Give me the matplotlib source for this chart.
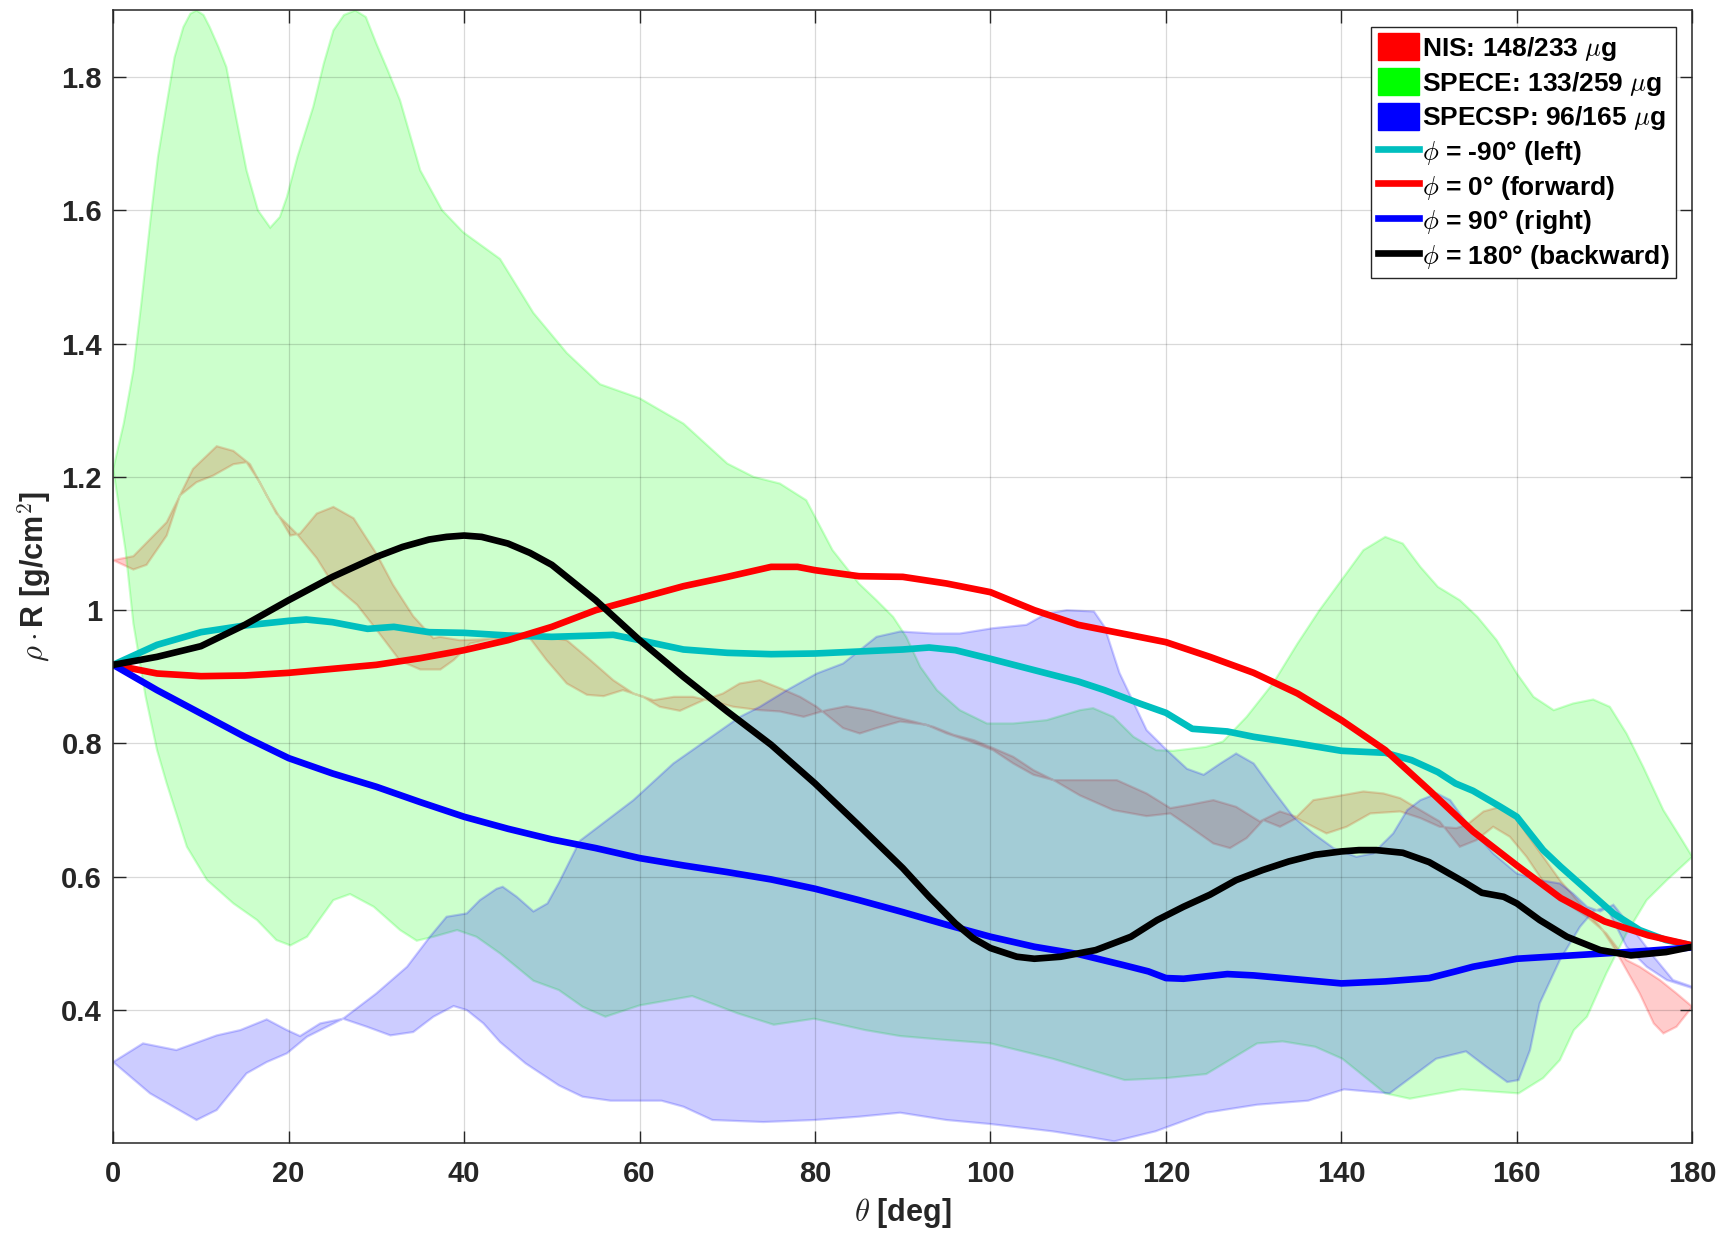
import numpy as np
import matplotlib
matplotlib.use("Agg")
import matplotlib.pyplot as plt
from matplotlib.patches import Patch
from matplotlib.lines import Line2D

plt.rcParams['font.family'] = ['Liberation Sans', 'DejaVu Sans']
plt.rcParams['font.weight'] = 'bold'
plt.rcParams['mathtext.fontset'] = 'cm'

# ---- shaded bands (two edges each) ----
nis_p_theta = [0, 2.3, 3.8, 6.1, 7.6, 9.1, 11.8, 13.7, 15.6, 17.5, 20.2, 21.3, 23.2, 25.1, 27.4, 30, 31.9, 34.2,
               36.5, 37.25, 39.5, 41.8, 47.5, 51.7, 54.4, 57, 59.3, 61.6, 63.9, 66.1, 68.4, 70.7, 73.7, 76, 78.7,
               81.3, 83.6, 86.3, 89, 91.2, 93.5, 95.8, 98.1, 100.3, 102.6, 104.9, 107.2, 110.2, 114, 117.8, 120.5,
               122.7, 125.4, 127.3, 129.2, 131.1, 133, 134.9, 136.8, 138.3, 140.6, 143.3, 146.7, 149, 151.2, 153.1,
               154.3, 156.2, 158.1, 159.6, 161.1, 163, 164.9, 167.2, 169.5, 171, 172.5, 174, 175.6, 176.7, 178.2, 180]
nis_p_val = [1.075, 1.061, 1.068, 1.112, 1.172, 1.212, 1.246, 1.239, 1.219, 1.172, 1.112, 1.115, 1.145, 1.155, 1.138,
             1.085, 1.038, 0.991, 0.958, 0.96, 0.955, 0.956, 0.963, 0.955, 0.925, 0.895, 0.875, 0.865, 0.87, 0.87,
             0.863, 0.855, 0.85, 0.848, 0.84, 0.85, 0.856, 0.85, 0.84, 0.833, 0.825, 0.813, 0.805, 0.793, 0.78, 0.76,
             0.745, 0.722, 0.7, 0.691, 0.695, 0.675, 0.65, 0.643, 0.658, 0.685, 0.675, 0.688, 0.675, 0.665, 0.675,
             0.695, 0.698, 0.688, 0.675, 0.673, 0.678, 0.698, 0.705, 0.695, 0.665, 0.63, 0.595, 0.56, 0.525, 0.495,
             0.46, 0.425, 0.38, 0.365, 0.375, 0.405]
nis_q_theta = [0, 2.3, 6.1, 7.6, 9.5, 11.4, 13.7, 15.2, 16.7, 18.6, 20.9, 23.2, 25.1, 27.8, 30.4, 32.7, 35, 37.3,
               38.8, 40.7, 43, 47.5, 49.4, 51.7, 54, 55.9, 58.1, 60.4, 62.3, 64.6, 67.3, 69.5, 71.4, 73.7, 76, 78.3,
               80.2, 83.2, 85.1, 87, 89.7, 92.7, 95, 97.3, 100.3, 102.6, 104.9, 107.2, 110.2, 114.4, 117.8, 120.5,
               122.7, 125.4, 128, 130.7, 133, 134.9, 136.8, 139.1, 142.5, 144.8, 146.7, 149, 151.2, 153.5, 155.4,
               157.3, 159.2, 161.1, 163.4, 165.7, 168, 170.2, 172.5, 174, 176.3, 178.2, 180]
nis_q_val = [1.075, 1.081, 1.132, 1.172, 1.192, 1.202, 1.219, 1.222, 1.192, 1.145, 1.115, 1.078, 1.038, 1.008, 0.964,
             0.924, 0.911, 0.911, 0.925, 0.95, 0.956, 0.958, 0.925, 0.89, 0.873, 0.871, 0.88, 0.87, 0.855, 0.849,
             0.865, 0.875, 0.89, 0.895, 0.883, 0.87, 0.855, 0.823, 0.815, 0.823, 0.833, 0.828, 0.815, 0.805, 0.79,
             0.77, 0.753, 0.745, 0.745, 0.745, 0.725, 0.703, 0.708, 0.715, 0.705, 0.683, 0.698, 0.69, 0.715, 0.72,
             0.728, 0.725, 0.718, 0.7, 0.683, 0.645, 0.655, 0.675, 0.66, 0.63, 0.585, 0.56, 0.54, 0.515, 0.475,
             0.465, 0.445, 0.425, 0.405]

spece_hi_theta = [0, 1.2, 2.3, 3.2, 4.2, 5.1, 6.1, 7, 8, 8.8, 9.5, 10.3, 11, 12, 12.9, 14, 15.2, 16.5, 17.9, 19,
                  19.8, 21, 22.8, 24, 25.1, 26.3, 27.6, 28.8, 30, 31.3, 32.7, 35, 37.5, 39.9,
                  44.1, 47.9, 51.7, 55.5, 60, 65, 70, 73, 76, 79, 82, 85, 87, 88.9, 90.4, 92, 93.9, 96.5, 99.6,
                  102.6, 106.4, 110.2, 111.7, 114, 116.3, 118.9, 120.8, 124.6, 126.5, 129.2, 132.2, 135, 137.5, 140,
                  142.5, 145, 147, 149, 151, 153.5, 155.5, 157.7, 160, 161.9, 164.2, 166.4, 168.7, 170.6, 172.5,
                  174.4, 176.7, 178.6, 180]
spece_hi_val = [1.212, 1.28, 1.36, 1.46, 1.58, 1.68, 1.76, 1.83, 1.875, 1.895, 1.9, 1.893, 1.875, 1.845, 1.815,
                1.74, 1.66, 1.6, 1.574, 1.59, 1.62, 1.68, 1.755, 1.82, 1.87, 1.893, 1.9, 1.89, 1.85, 1.81, 1.765,
                1.66, 1.6, 1.567, 1.527, 1.446, 1.386, 1.339, 1.318, 1.28, 1.22, 1.2, 1.19, 1.165, 1.09, 1.04, 1.015,
                0.99, 0.96, 0.915, 0.88, 0.85, 0.83, 0.83, 0.835, 0.85, 0.853, 0.84, 0.81, 0.79, 0.789, 0.795, 0.803,
                0.84, 0.89, 0.95, 1.0, 1.045, 1.09, 1.11, 1.1, 1.065, 1.035, 1.015, 0.99, 0.955, 0.905, 0.87, 0.85,
                0.86, 0.866, 0.855, 0.815, 0.765, 0.7, 0.66, 0.63]
spece_lo_theta = [0, 1.4, 2.3, 3.7, 5, 6.1, 8.4, 10.7, 13.7, 16.4, 18.6, 20.2, 22.1, 25.1, 27, 29.7, 32.7, 34.6, 36.5,
                  39.2, 41.4, 44.1, 47.9, 50.8, 53.5, 56.1, 60, 66, 71.2, 75.3, 79.9, 85.7, 89.7, 95, 100, 107.1,
                  115.3, 120.1, 124.6, 130.4, 133.3, 137, 140.1, 145, 147.8, 153.7, 160.2, 163, 164.9, 166.5, 168,
                  170.2, 172.5, 174.8, 177.1, 180]
spece_lo_val = [1.212, 1.09, 0.98, 0.87, 0.79, 0.74, 0.645, 0.595, 0.56, 0.535, 0.505, 0.497, 0.51, 0.565, 0.574,
                0.555, 0.52, 0.504, 0.51, 0.52, 0.51, 0.485, 0.444, 0.43, 0.405, 0.39, 0.407, 0.421, 0.395, 0.378,
                0.387, 0.37, 0.361, 0.355, 0.35, 0.327, 0.295, 0.298, 0.304, 0.35, 0.353, 0.345, 0.327, 0.275, 0.267,
                0.281, 0.275, 0.298, 0.325, 0.37, 0.39, 0.455, 0.515, 0.565, 0.595, 0.63]

specsp_b_theta = [0, 4.2, 9.5, 11.8, 15.2, 17.5, 19.8, 22.1, 26.2, 30, 33.5, 36.1, 38, 40.3, 41.8, 43.7, 44.4, 46,
                  47.9, 49.5, 50.8, 53.2, 55.5, 59.3, 63.85, 67.65, 71.45, 73.7, 76.8, 80.2, 83.2, 85.1, 87, 89.7,
                  93.5, 96.5, 100.3, 104.1, 106.4, 108.7, 111.8, 113, 114.7, 117.8, 120.1, 122.4, 124.3, 126.2, 128,
                  130, 132.2, 134.5, 136.8, 139.1, 141.7, 143.6, 145.9, 147.5, 149, 150.9, 152.4, 154.3, 157.3, 160,
                  162.6, 164.9, 166.4, 168, 169.5, 171, 173.3, 175.6, 177.8, 180]
specsp_b_val = [0.322, 0.275, 0.235, 0.25, 0.305, 0.322, 0.335, 0.36, 0.387, 0.425, 0.465, 0.51, 0.54, 0.545, 0.565,
                0.582, 0.585, 0.57, 0.548, 0.56, 0.591, 0.654, 0.677, 0.715, 0.77, 0.805, 0.84, 0.855, 0.88, 0.905,
                0.92, 0.94, 0.96, 0.968, 0.965, 0.965, 0.973, 0.978, 0.995, 1.0, 0.998, 0.975, 0.906, 0.82, 0.79,
                0.762, 0.753, 0.77, 0.785, 0.77, 0.73, 0.69, 0.665, 0.643, 0.63, 0.635, 0.665, 0.7, 0.715, 0.725,
                0.715, 0.68, 0.635, 0.605, 0.595, 0.59, 0.575, 0.555, 0.548, 0.558, 0.52, 0.48, 0.445, 0.435]
specsp_a_theta = [0, 3.4, 7.2, 11.8, 14.5, 17.5, 19.8, 21.3, 23.6, 26.2, 28.9, 31.6, 34.2, 36.5, 38.8, 40.3, 42.2,
                  44.1, 47, 50.8, 53.5, 56.7, 62.5, 65, 68.3, 74.1, 79.9, 85, 89.7, 95, 100, 107.1, 111, 114.1, 118.8,
                  124.6, 130.4, 136.2, 140.3, 145.5, 150.8, 154.2, 156.5, 158.9, 160.2, 161.5, 162.6, 164.9, 167.2,
                  168.7, 170.2, 172.5, 174.8, 177.1, 180]
specsp_a_val = [0.322, 0.35, 0.34, 0.362, 0.37, 0.386, 0.37, 0.361, 0.38, 0.387, 0.375, 0.362, 0.367, 0.39, 0.406,
                0.4, 0.38, 0.352, 0.32, 0.287, 0.27, 0.264, 0.264, 0.255, 0.235, 0.232, 0.235, 0.24, 0.246, 0.235,
                0.229, 0.218, 0.21, 0.203, 0.218, 0.246, 0.258, 0.264, 0.281, 0.275, 0.327, 0.338, 0.315, 0.292,
                0.295, 0.34, 0.41, 0.475, 0.525, 0.548, 0.555, 0.495, 0.465, 0.445, 0.433]

# ---- mean curves for each azimuth ----
left_theta = [0, 5, 10, 15, 20, 22, 25, 29, 32, 36, 40, 45, 50, 55, 57, 60, 65, 70, 75, 80, 85, 90, 93, 96, 100, 105,
              110, 113, 117, 120, 123, 127, 130, 135, 140, 145, 148, 151, 153, 155, 158, 160, 163, 165, 168, 171, 174,
              177, 180]
left_val = [0.918, 0.948, 0.967, 0.977, 0.984, 0.986, 0.982, 0.972, 0.975, 0.967, 0.966, 0.962, 0.96, 0.962, 0.963,
            0.955, 0.941, 0.936, 0.934, 0.935, 0.938, 0.941, 0.944, 0.94, 0.927, 0.91, 0.893, 0.88, 0.86, 0.846, 0.822,
            0.818, 0.81, 0.8, 0.789, 0.786, 0.775, 0.757, 0.74, 0.729, 0.706, 0.69, 0.64, 0.615, 0.58, 0.545, 0.52,
            0.505, 0.497]

fwd_theta = [0, 5, 10, 15, 20, 25, 30, 35, 40, 45, 50, 55, 60, 65, 70, 75, 78, 80, 85, 90, 95, 100, 105, 110, 115,
             120, 125, 130, 135, 140, 145, 150, 155, 160, 165, 170, 175, 180]
fwd_val = [0.918, 0.905, 0.901, 0.902, 0.906, 0.912, 0.918, 0.928, 0.94, 0.955, 0.975, 1.0, 1.018, 1.036, 1.05, 1.065,
           1.065, 1.06, 1.051, 1.05, 1.04, 1.027, 1.0, 0.978, 0.965, 0.952, 0.93, 0.906, 0.875, 0.835, 0.79, 0.73,
           0.668, 0.617, 0.568, 0.533, 0.512, 0.497]

right_theta = [0, 5, 10, 15, 20, 25, 30, 35, 40, 45, 50, 55, 60, 65, 70, 75, 80, 85, 90, 95, 100, 105, 110, 115, 118,
               120, 122, 127, 130, 135, 140, 145, 150, 153, 155, 160, 165, 170, 175, 180]
right_val = [0.918, 0.88, 0.845, 0.81, 0.778, 0.755, 0.735, 0.712, 0.69, 0.672, 0.656, 0.643, 0.628, 0.617, 0.607,
             0.596, 0.582, 0.565, 0.547, 0.528, 0.51, 0.495, 0.484, 0.468, 0.458, 0.448, 0.447, 0.454, 0.452, 0.446,
             0.44, 0.443, 0.448, 0.458, 0.465, 0.477, 0.481, 0.485, 0.489, 0.494]

back_theta = [0, 5, 10, 15, 20, 25, 30, 33, 36, 38, 40, 42, 45, 47.5, 50, 55, 60, 65, 70, 75, 80, 85, 90, 93, 96,
              98, 100, 103, 105, 108, 112, 116, 119, 122, 125, 128, 131, 134, 137, 140, 142, 144, 147, 150, 152, 154,
              156, 158.5, 160, 162.6, 165.7, 169.5, 173, 177, 180]
back_val = [0.918, 0.93, 0.946, 0.978, 1.015, 1.05, 1.08, 1.095, 1.106, 1.11, 1.112, 1.11, 1.1, 1.086, 1.068, 1.015,
            0.955, 0.9, 0.848, 0.798, 0.74, 0.677, 0.613, 0.57, 0.53, 0.508, 0.493, 0.48, 0.477, 0.48, 0.49, 0.51,
            0.535, 0.555, 0.573, 0.595, 0.61, 0.623, 0.633, 0.638, 0.64, 0.64, 0.636, 0.622, 0.607, 0.592, 0.576,
            0.57, 0.56, 0.535, 0.51, 0.49, 0.482, 0.487, 0.495]

band_labels = ["NIS: 148/233 $\\mu$g", "SPECE: 133/259 $\\mu$g", "SPECSP: 96/165 $\\mu$g"]
line_labels = ["$\\phi$ = -90\u00b0 (left)", "$\\phi$ = 0\u00b0 (forward)",
               "$\\phi$ = 90\u00b0 (right)", "$\\phi$ = 180\u00b0 (backward)"]

fig = plt.figure(figsize=(17.23, 12.33), dpi=100)
ax = fig.add_axes([0.0657, 0.0727, 0.9165, 0.9189])


def band(t1, v1, t2, v2, c):
    xs = list(t1) + list(t2)[::-1]
    ys = list(v1) + list(v2)[::-1]
    ax.fill(xs, ys, facecolor=c, edgecolor=c, alpha=0.2, lw=1.6, zorder=2)


band(nis_p_theta, nis_p_val, nis_q_theta, nis_q_val, (1, 0, 0))
band(spece_hi_theta, spece_hi_val, spece_lo_theta, spece_lo_val, (0, 1, 0))
band(specsp_b_theta, specsp_b_val, specsp_a_theta, specsp_a_val, (0, 0, 1))

cyan = (0, 0.75, 0.75)
lw = 4.8
ax.plot(left_theta, left_val, color=cyan, lw=lw, zorder=3, solid_capstyle='round', solid_joinstyle='round')
ax.plot(fwd_theta, fwd_val, color='r', lw=lw, zorder=3, solid_capstyle='round', solid_joinstyle='round')
ax.plot(right_theta, right_val, color='b', lw=lw, zorder=3, solid_capstyle='round', solid_joinstyle='round')
ax.plot(back_theta, back_val, color='k', lw=lw, zorder=3, solid_capstyle='round', solid_joinstyle='round')

ax.set_xlim(0, 180)
ax.set_ylim(0.2, 1.9)
ax.set_xticks(np.arange(0, 181, 20))
ax.set_yticks([0.4, 0.6, 0.8, 1.0, 1.2, 1.4, 1.6, 1.8])
ax.set_yticklabels(["0.4", "0.6", "0.8", "1", "1.2", "1.4", "1.6", "1.8"])
ax.tick_params(axis='both', which='major', labelsize=21, direction='in', length=9, width=1,
               top=True, right=True, color='#262626', labelcolor='#262626')
ax.tick_params(axis='x', pad=12)
ax.tick_params(axis='y', pad=8)
ax.grid(True, color='k', alpha=0.15, lw=0.9)
ax.set_axisbelow(False)
for s in ax.spines.values():
    s.set_color('#262626')
    s.set_linewidth(1.1)
    s.set_zorder(5)

ax.set_xlabel("$\\theta$ [deg]", fontsize=22, fontweight='bold', color='#262626', labelpad=6)
ax.set_ylabel("$\\rho\\cdot$R [g/cm$^{\\mathbf{2}}$]", fontsize=22, fontweight='bold', color='#262626', labelpad=6)

handles = [Patch(facecolor=(1, 0, 0), edgecolor=(1, 0, 0)),
           Patch(facecolor=(0, 1, 0), edgecolor=(0, 1, 0)),
           Patch(facecolor=(0, 0, 1), edgecolor=(0, 0, 1)),
           Line2D([0], [0], color=cyan, lw=lw),
           Line2D([0], [0], color='r', lw=lw),
           Line2D([0], [0], color='b', lw=lw),
           Line2D([0], [0], color='k', lw=lw)]
leg = ax.legend(handles, band_labels + line_labels, loc='upper right', bbox_to_anchor=(0.9895, 0.9855),
                borderaxespad=0, fontsize=19, handlelength=1.55, handleheight=1.2, handletextpad=0.1,
                labelspacing=0.2, borderpad=0.25, fancybox=False, framealpha=1, edgecolor='#262626')
leg.get_frame().set_linewidth(1.0)
leg.set_zorder(10)

fig.savefig("out.png", dpi=100)
